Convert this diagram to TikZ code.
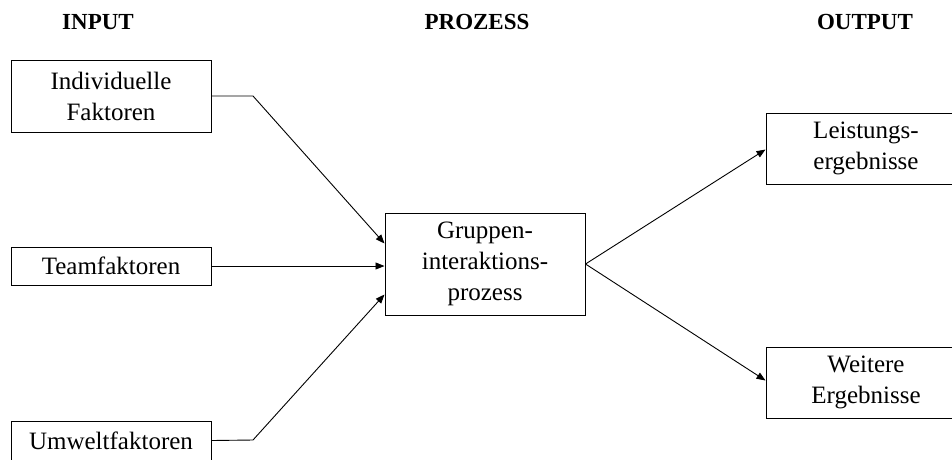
\documentclass[tikz,border=0pt]{standalone}
\usepackage{fontspec}
\setmainfont{Liberation Serif}
\usetikzlibrary{arrows.meta}
\begin{document}
\begin{tikzpicture}[x=1pt,y=1pt,
  box/.style={draw, line width=1pt, inner sep=0pt, align=center,
    font=\fontsize{25}{31}\selectfont},
  hdr/.style={font=\fontsize{23}{28}\bfseries\selectfont, inner sep=0pt},
  conn/.style={draw, line width=0.9pt, -{Triangle[length=9pt,width=7pt]}}]
\useasboundingbox (0,0) rectangle (952,-459);
% headers
\node[hdr] (hin) at (98,-22) {INPUT};
\node[hdr] (hpr) at (477,-22) {PROZESS};
\node[hdr] (hout) at (865,-22) {OUTPUT};
% boxes
\node[box, minimum width=200pt, minimum height=72pt] (ind) at (111,-96) {Individuelle\\Faktoren};
\node[box, minimum width=200pt, minimum height=38pt] (team) at (111,-266) {Teamfaktoren};
\node[box, minimum width=200pt, minimum height=39pt] (umw) at (111,-440.5) {Umweltfaktoren};
\node[box, minimum width=200pt, minimum height=102pt] (grp) at (485,-264) {Gruppen-\\interaktions-\\prozess};
\node[box, minimum width=200pt, minimum height=71pt] (leist) at (866,-148.5) {Leistungs-\\ergebnisse};
\node[box, minimum width=200pt, minimum height=71pt] (weit) at (866,-382.5) {Weitere\\Ergebnisse};
% bend points
\coordinate (b1) at (253,-96);
\coordinate (b3) at (253,-440);
% connectors
\draw[conn] (ind.east) -- (b1) -- ([yshift=-31pt]grp.north west);
\draw[conn] (team.east) -- (team.east -| grp.west);
\draw[conn] (umw.east) -- (b3) -- ([yshift=21pt]grp.south west);
\draw[conn] (grp.east) -- ([yshift=-37pt]leist.north west);
\draw[conn] (grp.east) -- ([yshift=38pt]weit.south west);
\end{tikzpicture}
\end{document}
